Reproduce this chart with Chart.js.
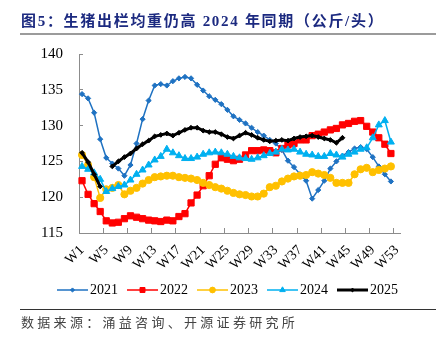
<!DOCTYPE html>
<html>
<head>
<meta charset="utf-8">
<script src="https://cdn.jsdelivr.net/npm/chart.js@4.4.1/dist/chart.umd.min.js"></script>
<style>
	html, body { margin: 0; padding: 0; background: #fff; }
	#wrap { position: relative; width: 436px; height: 343px; overflow: hidden; }
	#title { position: absolute; left: 21px; top: 12px; font: bold 15px "Liberation Serif", "Noto Sans CJK SC", serif; color: #1c2a80; letter-spacing: 1.7px; white-space: nowrap; line-height: 18px; }
	#titleRule { position: absolute; left: 20px; right: 0; top: 33px; height: 2px; background: #9b9b9b; }
	#srcRule { position: absolute; left: 20px; right: 0; top: 309px; height: 1px; background: #333; }
	#source { position: absolute; left: 21px; top: 314px; font: 13px "Noto Sans CJK SC", sans-serif; color: #444; letter-spacing: 3.3px; white-space: nowrap; line-height: 16px; }
	#chart { position: absolute; left: 0; top: 0; }
</style>
</head>
<body>
<div id="wrap">
	<canvas id="chart" width="436" height="343"></canvas>
	<div id="title">图5：生猪出栏均重仍高 2024 年同期（公斤/头）</div>
	<div id="titleRule"></div>
	<div id="srcRule"></div>
	<div id="source">数据来源：涌益咨询、开源证券研究所</div>
</div>
<script>
// Weekly average slaughter weight, kg per head
var weekLabels = [];
for (var w = 1; w <= 53; w++) weekLabels.push("W" + w);

var years = ["2021", "2022", "2023", "2024", "2025"];

var w2021 = [134.4, 133.8, 131.8, 128.1, 125.5, 124.7, 124.0, 123.0, 124.5, 127.5,
	130.9, 133.5, 135.6, 135.8, 135.6, 136.2, 136.6, 136.8, 136.6, 135.7,
	134.9, 134.1, 133.6, 133.0, 132.2, 131.3, 130.8, 130.3, 129.7, 129.1,
	128.6, 128.0, 127.5, 126.6, 125.1, 124.2, 123.2, 122.3, 119.8, 121.0,
	122.3, 124.0, 125.0, 125.8, 126.3, 126.8, 127.0, 126.7, 125.6, 124.3,
	123.2, 122.2];

var w2022 = [122.3, 120.4, 119.1, 118.0, 116.7, 116.4, 116.5, 117.0, 117.4, 117.2,
	117.0, 116.8, 116.7, 116.6, 116.8, 116.7, 117.3, 117.7, 119.2, 120.3,
	121.6, 123.0, 124.6, 125.5, 125.3, 125.1, 125.3, 125.9, 126.5, 126.5,
	126.6, 126.5, 126.2, 126.8, 127.3, 127.5, 128.0, 128.0, 128.6, 128.8,
	129.1, 129.4, 129.6, 130.1, 130.3, 130.6, 130.7, 129.9, 129.1, 128.3,
	127.4, 126.1];

var w2023 = [125.9, 124.5, 122.8, 119.9, 121.1, 121.3, 121.7, 120.4, 120.9, 121.3,
	121.9, 122.4, 122.8, 122.9, 123.0, 123.0, 122.8, 122.7, 122.6, 122.4,
	122.0, 121.7, 121.4, 121.2, 120.9, 120.6, 120.4, 120.3, 120.1, 120.1,
	120.5, 121.4, 121.6, 122.2, 122.6, 122.9, 123.0, 123.1, 123.5, 123.3,
	123.1, 122.7, 122.0, 122.0, 122.0, 123.2, 123.9, 124.1, 123.5, 123.8,
	124.0, 124.3];

var w2024 = [124.3, 123.9, 123.4, 122.5, 120.8, 121.2, 121.5, 121.7, 122.4, 123.2,
	123.8, 124.5, 125.2, 125.7, 126.7, 126.2, 125.8, 125.4, 125.4, 125.6,
	126.0, 126.2, 126.3, 126.2, 126.0, 125.7, 125.5, 125.4, 125.3, 125.5,
	125.8, 126.1, 126.3, 126.7, 126.6, 126.7, 126.3, 126.0, 125.9, 125.7,
	125.7, 126.1, 125.9, 125.6, 126.0, 126.3, 126.7, 126.9, 128.3, 130.1,
	130.7, 127.7];

// W5 has no reading in 2025 (Spring Festival gap)
var w2025 = [126.2, 124.9, 123.2, 121.5, null, 124.3, 125.0, 125.6, 126.1, 126.8,
	127.4, 127.9, 128.5, 128.7, 128.9, 128.6, 129.0, 129.4, 129.7, 129.7,
	129.3, 129.1, 129.1, 128.8, 128.4, 128.2, 128.6, 129.0, 128.7, 128.3,
	128.0, 127.8, 127.9, 128.0, 127.9, 128.2, 128.4, 128.5, 128.6, 128.4,
	128.2, 128.0, 127.6, 128.3];

var yMin = 115, yMax = 140, yStep = 5;

var seriesValues = [w2021, w2022, w2023, w2024, w2025];
var seriesColors = ["#1f72c2", "#ff0000", "#ffc000", "#00b0f0", "#000000"];
var seriesWidths = [1.5, 1.5, 1.5, 1.5, 3];
var seriesPoints = ["rectRot", "rect", "circle", "triangle", "rectRot"];
var seriesRadius = [2.6, 4.4, 3.6, 4, 2.4];

var axisColor = "#8c8c8c";
var serif = "'Liberation Serif', 'Times New Roman', serif";

// Legend swatch: short line with the series marker in the middle
function legendIcon(i) {
	var c = document.createElement("canvas");
	c.width = 31; c.height = 12;
	var g = c.getContext("2d");
	g.strokeStyle = seriesColors[i];
	g.lineWidth = seriesWidths[i];
	g.beginPath(); g.moveTo(0, 6); g.lineTo(31, 6); g.stroke();
	g.fillStyle = seriesColors[i];
	g.lineWidth = 1;
	Chart.helpers.drawPoint(g, { pointStyle: seriesPoints[i], radius: seriesRadius[i] * 0.8, borderWidth: 1, rotation: 0 }, 15.5, 6);
	return c;
}

var datasets = [];
for (var i = 0; i < years.length; i++) {
	datasets.push({
		label: years[i],
		data: seriesValues[i],
		borderColor: seriesColors[i],
		backgroundColor: seriesColors[i],
		borderWidth: seriesWidths[i],
		pointStyle: seriesPoints[i],
		pointRadius: seriesRadius[i],
		pointBorderWidth: 1,
		tension: 0,
		spanGaps: false,
		fill: false,
		order: years.length - i
	});
}

var icons = years.map(function(y, i) { return legendIcon(i); });

new Chart(document.getElementById("chart"), {
	type: "line",
	data: { labels: weekLabels, datasets: datasets },
	options: {
		responsive: false,
		animation: false,
		layout: { padding: { top: 54, bottom: 36, left: 40, right: 16 } },
		scales: {
			x: {
				type: "category",
				offset: true,
				grid: {
					offset: true,
					drawOnChartArea: false,
					tickLength: -5,
					color: function(c) { return c.index % 4 === 0 ? axisColor : "rgba(0,0,0,0)"; },
					tickColor: function(c) { return c.index % 4 === 0 ? axisColor : "rgba(0,0,0,0)"; }
				},
				border: { display: true, color: axisColor, width: 1 },
				ticks: {
					autoSkip: false,
					minRotation: 45,
					maxRotation: 45,
					padding: 14,
					color: "#000",
					font: { family: serif, size: 14 },
					callback: function(v, idx) { return idx % 4 === 0 ? weekLabels[idx] : ""; }
				},
				afterFit: function(s) { s.height = 36; }
			},
			y: {
				min: yMin,
				max: yMax,
				grid: { drawOnChartArea: false, tickLength: -4, color: axisColor },
				border: { display: true, color: axisColor, width: 1 },
				ticks: {
					stepSize: yStep,
					padding: 20,
					color: "#000",
					font: { family: serif, size: 15 }
				},
				afterFit: function(s) { s.width = 39; }
			},
			pad: {
				position: "right",
				display: true,
				grid: { display: false },
				border: { display: false },
				ticks: { display: false },
				afterFit: function(s) { s.width = 20; }
			}
		},
		plugins: {
			legend: {
				position: "bottom",
				labels: {
					usePointStyle: true,
					pointStyleWidth: 21,
					padding: 14,
					color: "#000",
					font: { family: serif, size: 14 },
					generateLabels: function(chart) {
						var items = Chart.defaults.plugins.legend.labels.generateLabels(chart);
						items.sort(function(a, b) { return a.datasetIndex - b.datasetIndex; });
						items.forEach(function(it) { it.pointStyle = icons[it.datasetIndex]; });
						return items;
					}
				}
			},
			tooltip: { enabled: false }
		}
	}
});
</script>
</body>
</html>
